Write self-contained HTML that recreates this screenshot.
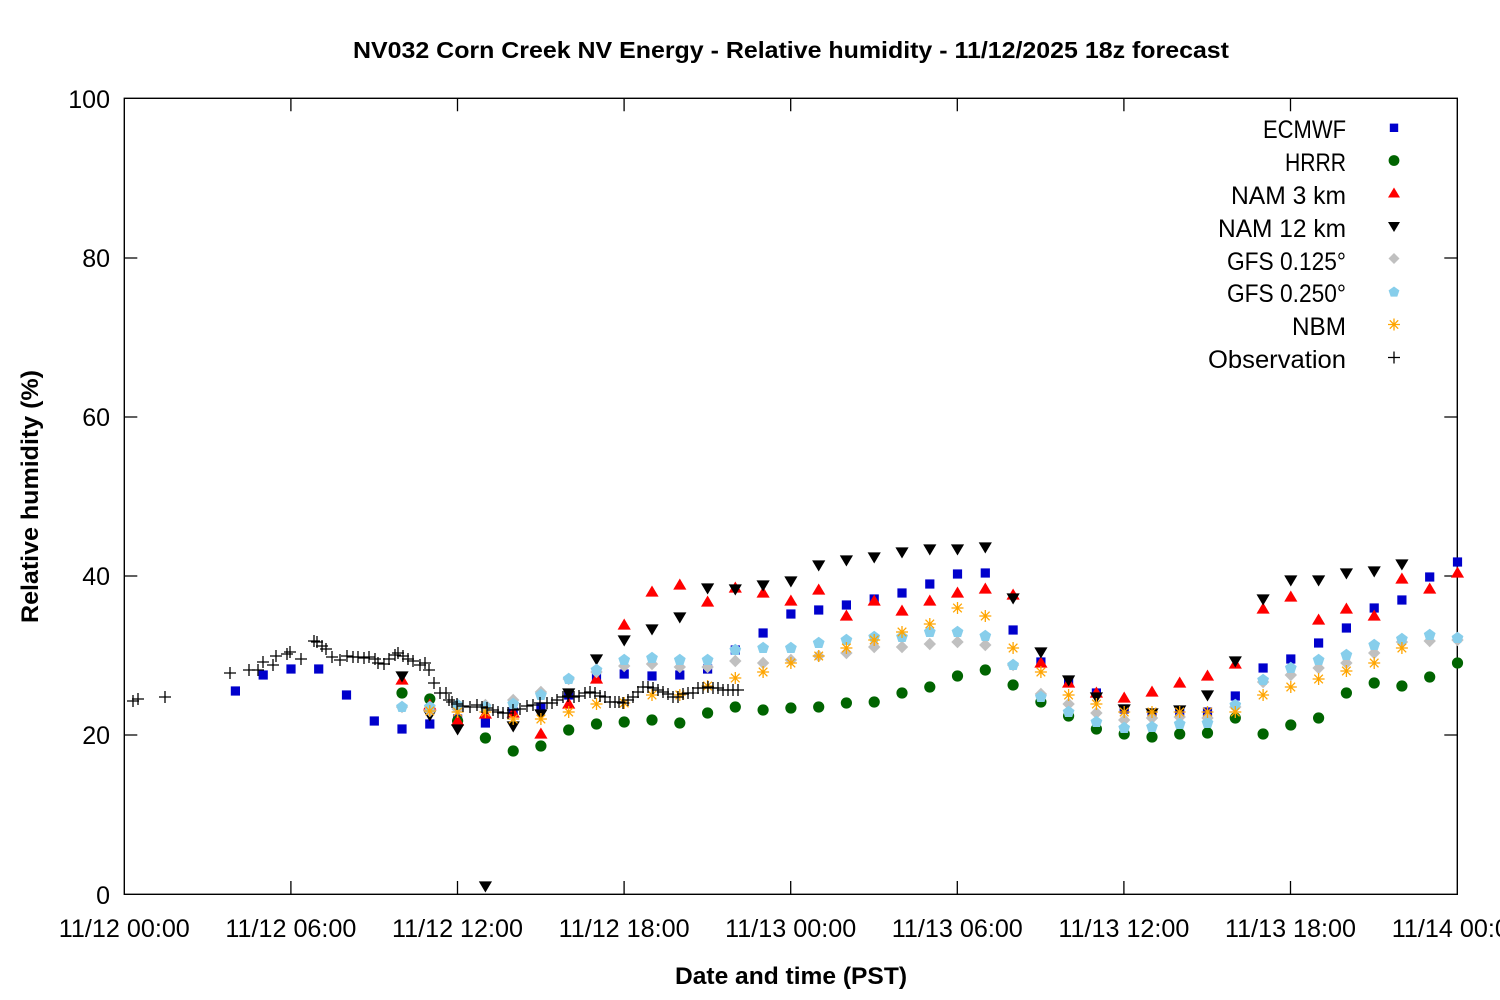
<!DOCTYPE html>
<html>
<head>
<meta charset="utf-8">
<style>
html,body{margin:0;padding:0;background:#fff;}
svg{display:block;}
text{font-family:"Liberation Sans",sans-serif;fill:#000;}
</style>
</head>
<body>
<svg width="1500" height="1000" viewBox="0 0 1500 1000" xmlns="http://www.w3.org/2000/svg">
<defs>
<marker id="mSq" markerUnits="userSpaceOnUse" markerWidth="12" markerHeight="12" refX="0" refY="0" overflow="visible"><rect x="-4.6" y="-4.6" width="9.2" height="9.2" fill="#0000cc"/></marker>
<marker id="mCi" markerUnits="userSpaceOnUse" markerWidth="12" markerHeight="12" refX="0" refY="0" overflow="visible"><circle cx="0" cy="0" r="5.6" fill="#006400"/></marker>
<marker id="mUp" markerUnits="userSpaceOnUse" markerWidth="14" markerHeight="14" refX="0" refY="0" overflow="visible"><path d="M0,-6.5 L6.6,4.6 L-6.6,4.6 Z" fill="#ff0000"/></marker>
<marker id="mDn" markerUnits="userSpaceOnUse" markerWidth="14" markerHeight="14" refX="0" refY="0" overflow="visible"><path d="M-6.6,-4.6 L6.6,-4.6 L0,6.5 Z" fill="#000000"/></marker>
<marker id="mDi" markerUnits="userSpaceOnUse" markerWidth="14" markerHeight="14" refX="0" refY="0" overflow="visible"><path d="M0,-6.2 L6.2,0 L0,6.2 L-6.2,0 Z" fill="#c0c0c0"/></marker>
<marker id="mPe" markerUnits="userSpaceOnUse" markerWidth="14" markerHeight="14" refX="0" refY="0" overflow="visible"><path d="M0,-6.2 L5.9,-1.9 L3.6,5 L-3.6,5 L-5.9,-1.9 Z" fill="#87ceeb"/></marker>
<marker id="mAs" markerUnits="userSpaceOnUse" markerWidth="14" markerHeight="14" refX="0" refY="0" overflow="visible"><path d="M-6,0 H6 M0,-6 V6 M-4.3,-4.3 L4.3,4.3 M-4.3,4.3 L4.3,-4.3" stroke="#ffa500" stroke-width="1.3" fill="none"/></marker>
<marker id="mPl" markerUnits="userSpaceOnUse" markerWidth="14" markerHeight="14" refX="0" refY="0" overflow="visible"><path d="M-6,0 H6 M0,-6 V6" stroke="#000" stroke-width="1.3" fill="none"/></marker>
</defs>

<!-- Title -->
<text x="791" y="58" font-size="23" font-weight="bold" text-anchor="middle" textLength="876" lengthAdjust="spacingAndGlyphs">NV032 Corn Creek NV Energy - Relative humidity - 11/12/2025 18z forecast</text>

<!-- Plot border -->
<rect x="124.3" y="98.3" width="1333" height="796" fill="none" stroke="#000" stroke-width="1.4"/>

<!-- Y ticks -->
<path d="M124.3,735 h13 M124.3,576 h13 M124.3,417 h13 M124.3,258 h13
M1457.3,735 h-13 M1457.3,576 h-13 M1457.3,417 h-13 M1457.3,258 h-13" stroke="#000" stroke-width="1.3" fill="none"/>
<!-- X ticks -->
<path d="M290.9,894 v-13 M457.5,894 v-13 M624.1,894 v-13 M790.7,894 v-13 M957.3,894 v-13 M1123.9,894 v-13 M1290.5,894 v-13
M290.9,98.3 v13 M457.5,98.3 v13 M624.1,98.3 v13 M790.7,98.3 v13 M957.3,98.3 v13 M1123.9,98.3 v13 M1290.5,98.3 v13" stroke="#000" stroke-width="1.3" fill="none"/>

<!-- Y tick labels -->
<g font-size="25" text-anchor="end">
<text x="110" y="108">100</text>
<text x="110" y="267">80</text>
<text x="110" y="426">60</text>
<text x="110" y="585">40</text>
<text x="110" y="744">20</text>
<text x="110" y="904">0</text>
</g>

<!-- X tick labels -->
<g font-size="25" text-anchor="middle">
<text x="124.3" y="937" textLength="131" lengthAdjust="spacingAndGlyphs">11/12 00:00</text>
<text x="290.9" y="937" textLength="131" lengthAdjust="spacingAndGlyphs">11/12 06:00</text>
<text x="457.5" y="937" textLength="131" lengthAdjust="spacingAndGlyphs">11/12 12:00</text>
<text x="624.1" y="937" textLength="131" lengthAdjust="spacingAndGlyphs">11/12 18:00</text>
<text x="790.7" y="937" textLength="131" lengthAdjust="spacingAndGlyphs">11/13 00:00</text>
<text x="957.3" y="937" textLength="131" lengthAdjust="spacingAndGlyphs">11/13 06:00</text>
<text x="1123.9" y="937" textLength="131" lengthAdjust="spacingAndGlyphs">11/13 12:00</text>
<text x="1290.5" y="937" textLength="131" lengthAdjust="spacingAndGlyphs">11/13 18:00</text>
<text x="1457.3" y="937" textLength="131" lengthAdjust="spacingAndGlyphs">11/14 00:00</text>
</g>

<!-- Axis labels -->
<text x="791" y="984" font-size="24" font-weight="bold" text-anchor="middle" textLength="232" lengthAdjust="spacingAndGlyphs">Date and time (PST)</text>
<text transform="translate(38,496.5) rotate(-90)" font-size="24" font-weight="bold" text-anchor="middle" textLength="253" lengthAdjust="spacingAndGlyphs">Relative humidity (%)</text>

<!-- Series -->
<!-- ECMWF -->
<path fill="none" stroke="none" marker-start="url(#mSq)" marker-mid="url(#mSq)" marker-end="url(#mSq)"
d="M235.4,691 263.2,675 291,669 318.7,669 346.5,695 374.3,721 402,729 429.8,724 457.6,719 485.4,723 513.2,712 540.9,707 568.7,695 596.5,677 624.2,674 652,676 679.8,675 707.6,669 735.3,650 763.1,633 790.9,614 818.7,610 846.4,605 874.2,599 902,593 929.8,584 957.5,574 985.3,573 1013.1,630 1040.9,662 1068.6,682 1096.4,693 1124.2,709 1152,713 1179.7,712 1207.5,712 1235.3,696 1263.1,668 1290.8,659 1318.6,643 1346.4,628 1374.2,608 1401.9,600 1429.7,577 1457.5,562"/>
<!-- HRRR -->
<path fill="none" stroke="none" marker-start="url(#mCi)" marker-mid="url(#mCi)" marker-end="url(#mCi)"
d="M402,693 429.8,699 457.6,721 485.4,738 513.2,751 540.9,746 568.7,730 596.5,724 624.2,722 652,720 679.8,723 707.6,713 735.3,707 763.1,710 790.9,708 818.7,707 846.4,703 874.2,702 902,693 929.8,687 957.5,676 985.3,670 1013.1,685 1040.9,702 1068.6,716 1096.4,729 1124.2,734 1152,737 1179.7,734 1207.5,733 1235.3,718 1263.1,734 1290.8,725 1318.6,718 1346.4,693 1374.2,683 1401.9,686 1429.7,677 1457.5,663"/>
<!-- NAM 3 km -->
<path fill="none" stroke="none" marker-start="url(#mUp)" marker-mid="url(#mUp)" marker-end="url(#mUp)"
d="M402,680 429.8,705 457.6,721 485.4,714 513.2,713 540.9,734 568.7,704 596.5,679 624.2,625 652,592 679.8,585 707.6,602 735.3,588 763.1,593 790.9,601 818.7,590 846.4,616 874.2,601 902,611 929.8,601 957.5,593 985.3,589 1013.1,595 1040.9,663 1068.6,683 1096.4,693 1124.2,698 1152,692 1179.7,683 1207.5,676 1235.3,664 1263.1,609 1290.8,597 1318.6,620 1346.4,609 1374.2,616 1401.9,579 1429.7,589 1457.5,573"/>
<!-- NAM 12 km -->
<path fill="none" stroke="none" marker-start="url(#mDn)" marker-mid="url(#mDn)" marker-end="url(#mDn)"
d="M402,676 429.8,715 457.6,729 485.4,886 513.2,726 540.9,714 568.7,693 596.5,659 624.2,640 652,629 679.8,617 707.6,588 735.3,589 763.1,585 790.9,581 818.7,565 846.4,560 874.2,557 902,552 929.8,549 957.5,549 985.3,547 1013.1,598 1040.9,652 1068.6,680 1096.4,697 1124.2,709 1152,713 1179.7,710 1207.5,695 1235.3,661 1263.1,599 1290.8,580 1318.6,580 1346.4,573 1374.2,571 1401.9,564"/>
<!-- GFS 0.125 -->
<path fill="none" stroke="none" marker-start="url(#mDi)" marker-mid="url(#mDi)" marker-end="url(#mDi)"
d="M402,707 429.8,711 457.6,709 485.4,705 513.2,700 540.9,692 568.7,679 596.5,672 624.2,666 652,664 679.8,667 707.6,667 735.3,661 763.1,663 790.9,660 818.7,656 846.4,653 874.2,647 902,647 929.8,644 957.5,642 985.3,645 1013.1,665 1040.9,694 1068.6,704 1096.4,713 1124.2,720 1152,718 1179.7,717 1207.5,718 1235.3,707 1263.1,682 1290.8,675 1318.6,668 1346.4,663 1374.2,653 1401.9,642 1429.7,641 1457.5,640"/>
<!-- GFS 0.250 -->
<path fill="none" stroke="none" marker-start="url(#mPe)" marker-mid="url(#mPe)" marker-end="url(#mPe)"
d="M402,707 429.8,707 457.6,705 485.4,707 513.2,704 540.9,695 568.7,679 596.5,670 624.2,660 652,658 679.8,660 707.6,660 735.3,650 763.1,648 790.9,648 818.7,643 846.4,640 874.2,637 902,637 929.8,632 957.5,632 985.3,636 1013.1,665 1040.9,697 1068.6,712 1096.4,722 1124.2,728 1152,727 1179.7,724 1207.5,723 1235.3,705 1263.1,680 1290.8,668 1318.6,660 1346.4,655 1374.2,645 1401.9,639 1429.7,635 1457.5,638"/>
<!-- NBM -->
<path fill="none" stroke="none" marker-start="url(#mAs)" marker-mid="url(#mAs)" marker-end="url(#mAs)"
d="M429.8,711 457.6,712 485.4,712 513.2,719 540.9,719 568.7,712 596.5,704 624.2,703 652,695 679.8,695 707.6,686 735.3,678 763.1,672 790.9,663 818.7,656 846.4,648 874.2,640 902,632 929.8,624 957.5,608 985.3,616 1013.1,648 1040.9,672 1068.6,695 1096.4,704 1124.2,712 1152,712 1179.7,712 1207.5,712 1235.3,712 1263.1,695 1290.8,687 1318.6,679 1346.4,671 1374.2,663 1401.9,648"/>
<!-- Observation -->
<path fill="none" stroke="none" marker-start="url(#mPl)" marker-mid="url(#mPl)" marker-end="url(#mPl)"
d="M133,701 138,699 165,697 230,673 249,670 258,670 263,662 273,665 276,656 287,654 290,652 301,659 314,641 317,642 322,646 326,649 332,657 340,660 347,656 353,657 358,657 364,658 369,657 375,659 378,663 384,664 389,659 395,655 398,653 403,656 408,659 413,661 420,665 425,663 429,670 434,683 440,693 446,693 449,700 452,702 457,704 463,706 470,707 477,705 482,707 487,708 493,710 498,712 503,713 508,713 513,710 520,709 527,706 533,705 540,703 547,703 552,703 557,700 563,697 568,696 574,697 579,696 585,693 590,692 595,693 600,696 605,697 610,702 615,702 619,702 623,703 628,700 633,697 638,692 643,687 648,687 653,688 658,690 663,692 668,694 673,697 678,697 683,694 688,693 693,693 698,688 703,688 708,687 713,688 718,688 723,690 728,690 733,690 738,690"/>

<!-- Legend -->
<g font-size="25" text-anchor="end">
<text x="1346" y="138" textLength="83" lengthAdjust="spacingAndGlyphs">ECMWF</text>
<text x="1346" y="171" textLength="61" lengthAdjust="spacingAndGlyphs">HRRR</text>
<text x="1346" y="204" textLength="115" lengthAdjust="spacingAndGlyphs">NAM 3 km</text>
<text x="1346" y="237" textLength="128" lengthAdjust="spacingAndGlyphs">NAM 12 km</text>
<text x="1346" y="270" textLength="119" lengthAdjust="spacingAndGlyphs">GFS 0.125°</text>
<text x="1346" y="302" textLength="119" lengthAdjust="spacingAndGlyphs">GFS 0.250°</text>
<text x="1346" y="335" textLength="54" lengthAdjust="spacingAndGlyphs">NBM</text>
<text x="1346" y="368" textLength="138" lengthAdjust="spacingAndGlyphs">Observation</text>
</g>
<rect x="1389.8" y="123.6" width="8.4" height="8.4" fill="#0000cc"/>
<circle cx="1394" cy="160.5" r="5.4" fill="#006400"/>
<path d="M1394,187.5 L1400,197.5 L1388,197.5 Z" fill="#ff0000"/>
<path d="M1388,222 L1400,222 L1394,232 Z" fill="#000"/>
<path d="M1394,253 L1399.5,258.5 L1394,264 L1388.5,258.5 Z" fill="#c0c0c0"/>
<path d="M1394,286.5 L1399.4,290.4 L1397.3,296.6 L1390.7,296.6 L1388.6,290.4 Z" fill="#87ceeb"/>
<path d="M1388,324.5 H1400 M1394,318.5 V330.5 M1389.8,320.3 L1398.2,328.7 M1389.8,328.7 L1398.2,320.3" stroke="#ffa500" stroke-width="1.3" fill="none"/>
<path d="M1388,357.5 H1400 M1394,351.5 V363.5" stroke="#000" stroke-width="1.3" fill="none"/>
</svg>
</body>
</html>
